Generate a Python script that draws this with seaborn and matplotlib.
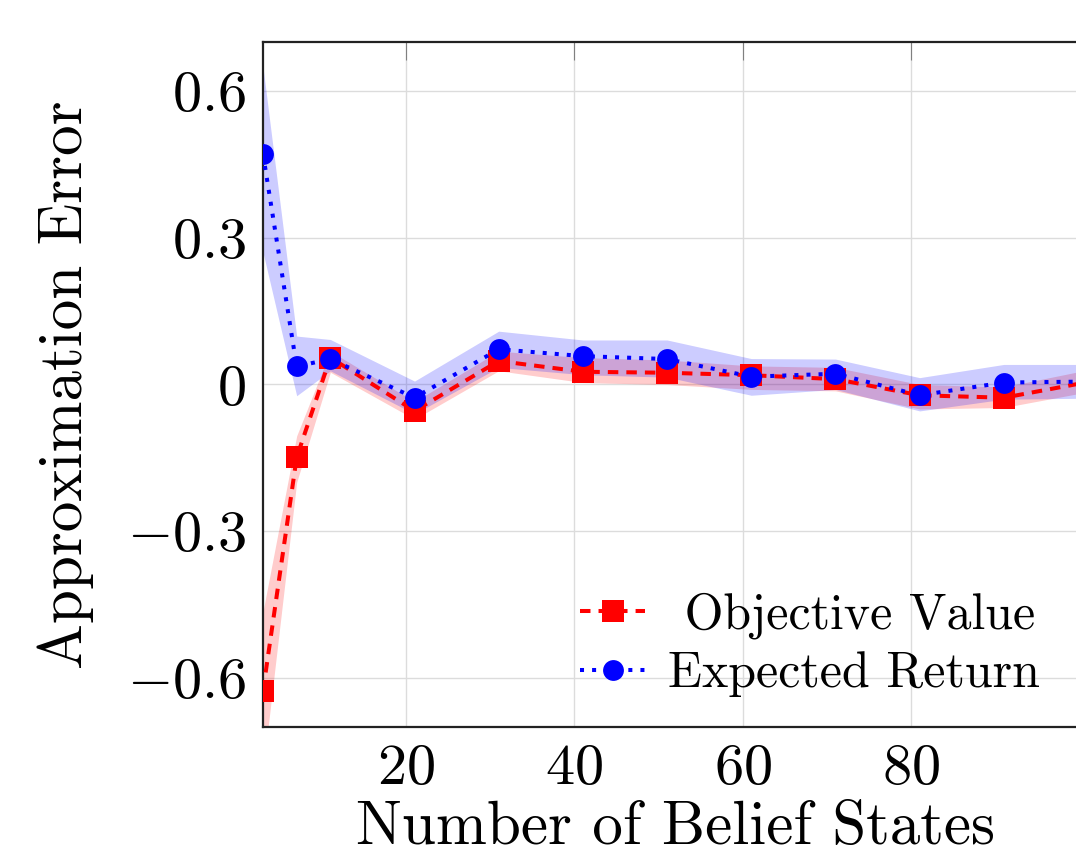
import numpy as np
import pandas as pd
import matplotlib
matplotlib.use("Agg")
import matplotlib.pyplot as plt
import seaborn as sns

# ---- data ----
belief_states = [3, 7, 11, 21, 31, 41, 51, 61, 71, 81, 91, 101]
objective_value = [-0.626, -0.149, 0.055, -0.054, 0.048, 0.026, 0.024, 0.019, 0.011, -0.022, -0.027, 0.005]
objective_lo = [-0.79, -0.20, 0.025, -0.071, 0.028, 0.004, 0.000, -0.010, -0.013, -0.050, -0.047, -0.015]
objective_hi = [-0.464, -0.105, 0.068, -0.035, 0.068, 0.055, 0.050, 0.038, 0.035, 0.000, -0.005, 0.030]
expected_return = [0.471, 0.037, 0.052, -0.027, 0.072, 0.058, 0.052, 0.016, 0.022, -0.022, 0.004, 0.006]
expected_lo = [0.27, -0.023, 0.028, -0.060, 0.035, 0.020, 0.015, -0.022, -0.010, -0.054, -0.030, -0.028]
expected_hi = [0.649, 0.099, 0.092, 0.007, 0.109, 0.091, 0.091, 0.053, 0.052, 0.014, 0.041, 0.041]

xticks = [20, 40, 60, 80]
xtick_labels = ["$20$", "$40$", "$60$", "$80$"]
yticks = [-0.6, -0.3, 0.0, 0.3, 0.6]
ytick_labels = ["$-0.6$", "$-0.3$", "$0$", "$0.3$", "$0.6$"]
legend_labels = [" Objective Value", "Expected Return"]

sns.set_style("white")
plt.rcParams["font.family"] = ["cmr10", "DejaVu Serif"]
plt.rcParams["mathtext.fontset"] = "cm"
plt.rcParams["axes.unicode_minus"] = False
plt.rcParams["text.color"] = "black"
plt.rcParams["axes.labelcolor"] = "black"
plt.rcParams["xtick.color"] = "black"
plt.rcParams["ytick.color"] = "black"

FS_TICK = 42
FS_LABEL = 44
FS_LEG = 36

fig = plt.figure(figsize=(10.76, 8.55), dpi=100)
ax = fig.add_axes([263 / 1076, 128 / 855, 825 / 1076, 685 / 855])

df = pd.DataFrame({
    "x": belief_states * 2,
    "y": objective_value + expected_return,
    "series": ["Objective Value"] * len(belief_states) + ["Expected Return"] * len(belief_states),
})

ax.fill_between(belief_states, objective_lo, objective_hi, color="red", alpha=0.2, lw=0, zorder=1)
ax.fill_between(belief_states, expected_lo, expected_hi, color="blue", alpha=0.2, lw=0, zorder=1)

sns.lineplot(data=df[df.series == "Objective Value"], x="x", y="y", ax=ax,
             color="red", marker="s", markersize=16, markeredgewidth=0,
             linewidth=2.9, dashes=False, label=legend_labels[0], zorder=3)
sns.lineplot(data=df[df.series == "Expected Return"], x="x", y="y", ax=ax,
             color="blue", marker="o", markersize=15, markeredgewidth=0,
             linewidth=2.9, dashes=False, label=legend_labels[1], zorder=4)
lines = ax.get_lines()
lines[0].set_dashes([2.6, 2.0])
lines[1].set_dashes([1.0, 2.0])

ax.set_xlim(3, 101)
ax.set_ylim(-0.7, 0.7)
ax.set_xticks(xticks, labels=xtick_labels)
ax.set_yticks(yticks, labels=ytick_labels)
ax.tick_params(axis="both", direction="in", length=13, width=0.8, color="#808080",
               labelcolor="black", labelsize=FS_TICK, top=True, right=False, pad=12)
ax.grid(True, color="#dcdcdc", lw=1.0, zorder=0)
ax.set_axisbelow(True)
for s in ax.spines.values():
    s.set_color("#222222")
    s.set_linewidth(1.6)

ax.set_xlabel("Number of Belief States", fontsize=FS_LABEL, labelpad=4)
ax.set_ylabel("Approximation Error", fontsize=FS_LABEL, labelpad=24)

handles, labels = ax.get_legend_handles_labels()
leg = ax.legend(handles, labels, loc="lower right", bbox_to_anchor=(0.978, 0.0), frameon=False,
                fontsize=FS_LEG, handlelength=1.3, handletextpad=0.45, labelspacing=0.25,
                borderaxespad=0.2)

fig.savefig("out.png", dpi=100)
